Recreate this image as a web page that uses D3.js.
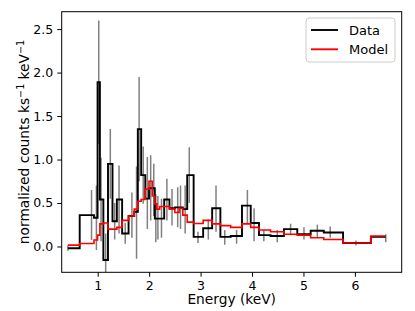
<!DOCTYPE html>
<html>
<head>
<meta charset="utf-8">
<script src="https://cdn.jsdelivr.net/npm/d3@7"></script>
<style>
  body { margin: 0; background: #fff; }
  text { font-family: "DejaVu Sans", sans-serif; }
</style>
</head>
<body>
<div id="graph"></div>
<script>
const energy = [0.42, 0.88, 0.975, 1.02, 1.065, 1.155, 1.245, 1.33, 1.415, 1.535, 1.665, 1.755, 1.805, 1.885,
  1.965, 2.03, 2.09, 2.13, 2.17, 2.24, 2.345, 2.445, 2.555, 2.61, 2.70, 2.78, 2.95, 3.15, 3.30, 3.47, 3.70,
  3.91, 4.04, 4.23, 4.49, 4.75, 5.01, 5.27, 5.52, 6.02, 6.60];
const dataVals = [-0.02, 0.36, 0.33, 1.89, 0.54, -0.155, 0.95, 0.29, 0.54, 0.15, 0.35, 0.40, 1.35, 0.82,
  0.55, 0.67, 0.67, 0.32, 0.32, 0.32, 0.54, 0.44, 0.45, 0.45, 0.43, 0.82, 0.11, 0.21, 0.44, 0.11, 0.12,
  0.47, 0.27, 0.13, 0.12, 0.20, 0.14, 0.18, 0.16, 0.04, 0.11];
const errLo = [-0.05, 0.075, -0.04, 1.18, 0.06, -0.45, 0.55, 0.08, 0.15, 0.03, 0.10, -0.14, 0.75, 0.49,
  0.20, 0.30, 0.35, 0.05, 0.08, 0.10, 0.30, 0.24, 0.22, 0.20, 0.15, 0.50, 0.04, 0.08, 0.17, 0.02, 0.03,
  0.27, 0.06, 0.06, 0.05, 0.13, 0.08, 0.11, 0.10, 0.01, 0.05];
const errHi = [0.01, 0.65, 0.70, 2.60, 1.02, 0.15, 1.35, 0.50, 0.93, 0.27, 0.62, 0.92, 1.95, 1.15,
  1.03, 1.05, 0.95, 0.60, 0.58, 0.55, 0.78, 0.66, 0.68, 0.70, 0.70, 1.14, 0.17, 0.31, 0.70, 0.19, 0.19,
  0.65, 0.44, 0.19, 0.19, 0.26, 0.22, 0.25, 0.23, 0.07, 0.14];
const modelVals = [0.015, 0.035, 0.075, 0.13, 0.26, 0.27, 0.20, 0.20, 0.22, 0.30, 0.35, 0.43, 0.52, 0.54,
  0.66, 0.75, 0.58, 0.49, 0.43, 0.46, 0.46, 0.43, 0.39, 0.44, 0.36, 0.28, 0.265, 0.30, 0.26, 0.24, 0.22,
  0.26, 0.22, 0.19, 0.17, 0.14, 0.13, 0.10, 0.08, 0.04, 0.12];
const xTicks = [1, 2, 3, 4, 5, 6];
const yTicks = [0.0, 0.5, 1.0, 1.5, 2.0, 2.5];

const width = 415, height = 311;
const pLeft = 61.7, pRight = 401.7, pTop = 11.7, pBottom = 272.3;

const svg = d3.select("#graph").append("svg")
    .attr("width", width)
    .attr("height", height);

const x = d3.scaleLinear().domain([0.30, 6.91]).range([pLeft, pRight]);
const y = d3.scaleLinear().domain([-0.297, 2.70]).range([pBottom, pTop]);

svg.append("clipPath").attr("id", "clip")
  .append("rect")
    .attr("x", pLeft).attr("y", pTop)
    .attr("width", pRight - pLeft).attr("height", pBottom - pTop);

const plot = svg.append("g").attr("clip-path", "url(#clip)");

// barras de error
plot.selectAll("line.err")
  .data(energy)
  .enter()
  .append("line")
    .attr("class", "err")
    .attr("x1", d => x(d)).attr("x2", d => x(d))
    .attr("y1", (d, i) => y(errLo[i]))
    .attr("y2", (d, i) => y(errHi[i]))
    .attr("stroke", "#808080")
    .attr("stroke-width", 1.5);

// escalones centrados en cada punto (steps-mid)
const step = d3.line().curve(d3.curveStep);

plot.append("path")
    .attr("d", step(energy.map((e, i) => [x(e), y(dataVals[i])])))
    .attr("fill", "none")
    .attr("stroke", "black")
    .attr("stroke-width", 1.9);

plot.append("path")
    .attr("d", step(energy.map((e, i) => [x(e), y(modelVals[i])])))
    .attr("fill", "none")
    .attr("stroke", "red")
    .attr("stroke-width", 1.6);

// ejes
const xAxis = svg.append("g")
    .attr("transform", `translate(0,${pBottom})`)
    .call(d3.axisBottom(x).tickValues(xTicks).tickSize(4.4).tickPadding(4.2).tickFormat(d3.format("d")));
const yAxis = svg.append("g")
    .attr("transform", `translate(${pLeft},0)`)
    .call(d3.axisLeft(y).tickValues(yTicks).tickSize(4.4).tickPadding(4.2).tickFormat(d3.format(".1f")));

[xAxis, yAxis].forEach(a => {
  a.select(".domain").remove();
  a.selectAll("text").attr("font-family", "DejaVu Sans").attr("font-size", 12.5).attr("fill", "black");
  a.selectAll("line").attr("stroke", "black").attr("stroke-width", 1);
});

svg.append("rect")
    .attr("x", pLeft).attr("y", pTop)
    .attr("width", pRight - pLeft).attr("height", pBottom - pTop)
    .attr("fill", "none")
    .attr("stroke", "black")
    .attr("stroke-width", 1);

svg.append("text")
    .attr("x", (pLeft + pRight) / 2).attr("y", 304)
    .attr("text-anchor", "middle")
    .attr("font-size", 13.75)
    .text("Energy (keV)");

const ylab = svg.append("text")
    .attr("transform", `translate(29,${(pTop + pBottom) / 2}) rotate(-90)`)
    .attr("text-anchor", "middle")
    .attr("font-size", 13.75);
ylab.append("tspan").text("normalized counts ks");
ylab.append("tspan").attr("dy", -5.5).attr("font-size", 9.6).text("\u22121");
ylab.append("tspan").attr("dy", 5.5).text(" keV");
ylab.append("tspan").attr("dy", -5.5).attr("font-size", 9.6).text("\u22121");

// leyenda
const legend = svg.append("g");
legend.append("rect")
    .attr("x", 306).attr("y", 18).attr("width", 89).attr("height", 44).attr("rx", 3)
    .attr("fill", "white").attr("fill-opacity", 0.8)
    .attr("stroke", "#cccccc").attr("stroke-width", 1);
const items = [["Data", "black"], ["Model", "red"]];
items.forEach(([name, color], i) => {
  const ly = 30 + i * 19.3;
  legend.append("line")
      .attr("x1", 311).attr("x2", 338).attr("y1", ly).attr("y2", ly)
      .attr("stroke", color).attr("stroke-width", 1.9);
  legend.append("text")
      .attr("x", 349).attr("y", ly + 4.6)
      .attr("font-size", 13)
      .text(name);
});
</script>
</body>
</html>
